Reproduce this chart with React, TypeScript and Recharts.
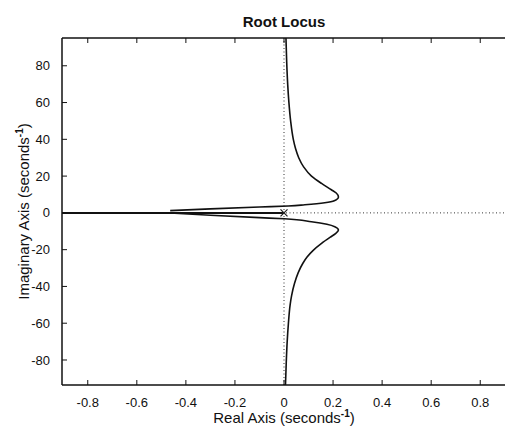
import React from 'react';
import { ComposedChart, Line, XAxis, YAxis, ReferenceLine, Scatter } from 'recharts';

const xTicks = [-0.8, -0.6, -0.4, -0.2, 0, 0.2, 0.4, 0.6, 0.8];
const yTicks = [-80, -60, -40, -20, 0, 20, 40, 60, 80];
const xDomain = [-0.905, 0.905];
const yDomain = [-93.6, 95.1];

// upper branch, ordered by increasing imaginary part
const upperRe = [-0.464, -0.3, -0.1, 0.017, 0.085, 0.166, 0.205, 0.222, 0.213, 0.193, 0.153, 0.112, 0.08, 0.06, 0.047, 0.038, 0.027, 0.02, 0.015, 0.011, 0.008];
const upperIm = [1.2, 2.2, 3.2, 3.7, 4.4, 5.5, 6.6, 8.7, 10.8, 12.6, 16, 20, 25, 30, 35, 40, 50, 60, 70, 82, 95.1];

// lower branch, ordered by increasing imaginary part
const lowerRe = [0.006, 0.009, 0.013, 0.018, 0.025, 0.031, 0.043, 0.058, 0.077, 0.094, 0.118, 0.153, 0.19, 0.21, 0.222, 0.207, 0.175, 0.112, 0.003, -0.1, -0.3, -0.464];
const lowerIm = [-93.6, -82, -70, -60, -50, -45, -38.3, -32.5, -27.4, -24, -20.5, -16.6, -13.1, -11.3, -9.3, -7.5, -6.2, -4.8, -3.2, -2.6, -1.3, -0.1];

const realAxisRe = [-0.905, 0];
const realAxisIm = [0, 0];

const poleRe = [0];
const poleIm = [0];

const zip = (re: number[], im: number[]) => re.map((x, i) => ({ x, y: im[i] }));

const upper = zip(upperRe, upperIm);
const lower = zip(lowerRe, lowerIm);
const realAxis = zip(realAxisRe, realAxisIm);
const poles = zip(poleRe, poleIm);

const FONT = '"Liberation Sans", Arial, Helvetica, sans-serif';

const fmt = (v: number) => (v === 0 ? '0' : String(Number(v.toFixed(1))));

const XLabel = (props: any) => {
  const vb = props.viewBox || {};
  const cx = vb.x + vb.width / 2;
  return (
    <text x={cx} y={423} textAnchor="middle" fontFamily={FONT} fontSize={15} fill="#111">
      Real Axis (seconds<tspan dy={-6} fontSize={10} fontWeight="bold">-1</tspan>
      <tspan dy={6}>)</tspan>
    </text>
  );
};

const YLabel = (props: any) => {
  const vb = props.viewBox || {};
  const cy = vb.y + vb.height / 2;
  const x = 29;
  return (
    <text x={x} y={cy} transform={`rotate(-90 ${x} ${cy})`} textAnchor="middle" fontFamily={FONT} fontSize={15} fill="#111">
      Imaginary Axis (seconds<tspan dy={-6} fontSize={10} fontWeight="bold">-1</tspan>
      <tspan dy={6}>)</tspan>
    </text>
  );
};

const Title = (props: any) => {
  const vb = props.viewBox || {};
  const cx = vb.x + vb.width / 2;
  return (
    <text x={cx} y={27} textAnchor="middle" fontFamily={FONT} fontSize={15} fontWeight="bold" fill="#111">
      Root Locus
    </text>
  );
};

const Cross = (props: any) => {
  const { cx, cy } = props;
  const s = 3.5;
  return (
    <path d={`M${cx - s},${cy - s}L${cx + s},${cy + s}M${cx - s},${cy + s}L${cx + s},${cy - s}`} stroke="#222" strokeWidth={1.3} fill="none" />
  );
};

export default function App() {
  return (
    <div style={{ position: 'absolute', left: 0, top: 0, width: 505, height: 433, overflow: 'hidden', background: '#fff' }}>
      <ComposedChart width={507} height={433} margin={{ top: 37, right: 1, bottom: 0, left: 0 }}>
        <XAxis
          xAxisId={0}
          dataKey="x"
          type="number"
          domain={xDomain}
          allowDataOverflow
          ticks={xTicks}
          tickFormatter={fmt}
          orientation="bottom"
          height={48}
          tickSize={-5}
          tickMargin={18}
          axisLine={{ stroke: '#111', strokeWidth: 1.5 }}
          tickLine={{ stroke: '#111' }}
          tick={{ fontFamily: FONT, fontSize: 13, fill: '#111' }}
          label={<XLabel />}
        />
        <XAxis
          xAxisId="top"
          dataKey="x"
          type="number"
          domain={xDomain}
          allowDataOverflow
          ticks={xTicks}
          tickFormatter={() => ''}
          orientation="top"
          height={1}
          tickSize={-5}
          axisLine={{ stroke: '#111', strokeWidth: 1.5 }}
          tickLine={{ stroke: '#111' }}
          label={<Title />}
        />
        <YAxis
          dataKey="y"
          type="number"
          domain={yDomain}
          allowDataOverflow
          ticks={yTicks}
          tickFormatter={fmt}
          width={62}
          tickSize={-5}
          tickMargin={17}
          axisLine={{ stroke: '#111', strokeWidth: 1.5 }}
          tickLine={{ stroke: '#111' }}
          tick={{ fontFamily: FONT, fontSize: 13, fill: '#111' }}
          label={<YLabel />}
        />
        <ReferenceLine x={0} stroke="#333" strokeDasharray="1 2.5" strokeWidth={1} />
        <ReferenceLine y={0} stroke="#333" strokeDasharray="1 2.5" strokeWidth={1} />
        <Line data={realAxis} dataKey="y" type="linear" stroke="#111" strokeWidth={2} dot={false} isAnimationActive={false} />
        <Line data={upper} dataKey="y" type="monotoneY" stroke="#111" strokeWidth={1.6} dot={false} isAnimationActive={false} />
        <Line data={lower} dataKey="y" type="monotoneY" stroke="#111" strokeWidth={1.6} dot={false} isAnimationActive={false} />
        <Scatter data={poles} dataKey="y" shape={<Cross />} isAnimationActive={false} />
      </ComposedChart>
    </div>
  );
}
